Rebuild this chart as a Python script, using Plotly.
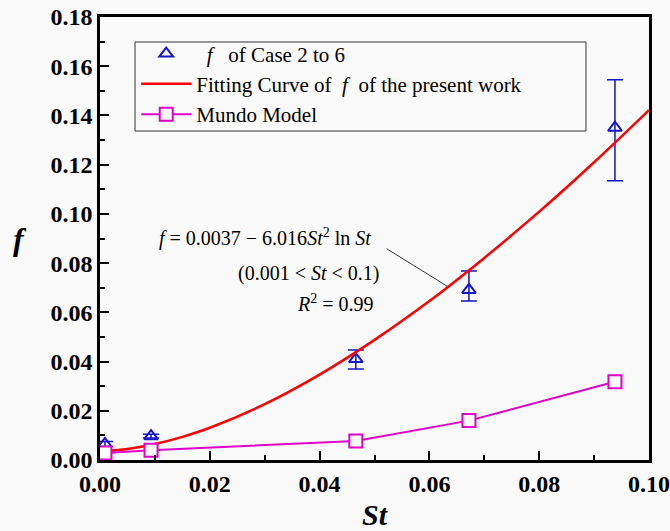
import plotly.graph_objects as go

# Measured f (Case 2 to 6)
st_case = [0.0009, 0.0093, 0.0466, 0.0672, 0.0938]
f_case = [0.0065, 0.0097, 0.0410, 0.0691, 0.1350]
err_plus = [0.0010, 0.0008, 0.0037, 0.0077, 0.0195]
err_minus = [0.0010, 0.0008, 0.0040, 0.0045, 0.0215]

# Fitting curve
st_fit = [0.001, 0.005, 0.01, 0.015, 0.02, 0.03, 0.04, 0.05, 0.06, 0.067, 0.07, 0.08, 0.09, 0.10]
f_fit = [0.0037, 0.0045, 0.0065, 0.0094, 0.0131, 0.0227, 0.0347, 0.0488, 0.0646, 0.0767, 0.0821, 0.1009, 0.1210, 0.1422]

# Mundo model
st_mundo = [0.0009, 0.0093, 0.0466, 0.0672, 0.0938]
f_mundo = [0.0028, 0.0040, 0.0077, 0.0160, 0.0318]

x_ticks = [0.00, 0.02, 0.04, 0.06, 0.08, 0.10]
y_ticks = [0.00, 0.02, 0.04, 0.06, 0.08, 0.10, 0.12, 0.14, 0.16, 0.18]

SERIF = "Liberation Serif"
BLUE = "#1414C8"
MAG = "#E000C8"
BG = "#FAFAFA"

fig = go.Figure()

fig.add_trace(go.Scatter(
    x=st_case, y=f_case, mode="markers",
    name="  <i>f</i>   of Case 2 to 6",
    marker=dict(symbol="triangle-up-open", size=12, color=BLUE, line=dict(width=2, color=BLUE)),
    error_y=dict(type="data", symmetric=False, array=err_plus, arrayminus=err_minus,
                 color=BLUE, thickness=1.5, width=8),
))

fig.add_trace(go.Scatter(
    x=st_fit, y=f_fit, mode="lines", line_shape="spline",
    name="Fitting Curve of  <i>f</i>  of the present work",
    line=dict(color="#FF0000", width=2.5),
))

fig.add_trace(go.Scatter(
    x=st_mundo, y=f_mundo, mode="lines+markers",
    name="Mundo Model",
    line=dict(color=MAG, width=2),
    marker=dict(symbol="square", size=13, color=BG, line=dict(width=2, color=MAG)),
))

axis_common = dict(
    ticks="inside", ticklen=9, tickwidth=2, tickcolor="black",
    minor=dict(ticks="inside", ticklen=5, tickwidth=2, dtick=0.01, tickcolor="black"),
    showline=True, linecolor="black", linewidth=2.5, mirror=True,
    showgrid=False, zeroline=False, automargin=False,
    tickfont=dict(family=SERIF, size=24, color="black"),
)
fig.update_xaxes(range=[0, 0.10], tickvals=x_ticks,
                 ticktext=[f"<b>{v:.2f}</b>" for v in x_ticks], **axis_common)
fig.update_yaxes(range=[0, 0.18], tickvals=y_ticks,
                 ticktext=[f"<b>{v:.2f}</b>" for v in y_ticks], **axis_common)

fig.add_annotation(xref="paper", yref="paper", x=0.502, y=-0.124, text="<b><i>St</i></b>",
                   showarrow=False, font=dict(family=SERIF, size=30, color="black"),
                   xanchor="center", yanchor="middle")
fig.add_annotation(xref="paper", yref="paper", x=-0.146, y=0.50, text="<b><i>f</i></b>",
                   showarrow=False, font=dict(family=SERIF, size=32, color="black"),
                   xanchor="center", yanchor="middle")

ann_font = dict(family=SERIF, size=20, color="black")
fig.add_annotation(xref="x", yref="y", x=0.0498, y=0.0903,
                   text="<i>f</i> = 0.0037 − 6.016<i>St</i><sup>2</sup> ln <i>St</i>",
                   showarrow=False, font=ann_font, xanchor="right", yanchor="middle")
fig.add_annotation(xref="x", yref="y", x=0.0511, y=0.0757,
                   text="(0.001 &lt; <i>St</i> &lt; 0.1)",
                   showarrow=False, font=ann_font, xanchor="right", yanchor="middle")
fig.add_annotation(xref="x", yref="y", x=0.0502, y=0.0638,
                   text="<i>R</i><sup>2</sup> = 0.99",
                   showarrow=False, font=ann_font, xanchor="right", yanchor="middle")
fig.add_annotation(xref="x", yref="y", x=0.0634, y=0.0704, text="",
                   showarrow=True, arrowhead=0, arrowwidth=1, arrowcolor="#333333",
                   ax=-63, ay=-39, axref="pixel", ayref="pixel")

# legend frame
fig.add_shape(type="rect", xref="paper", yref="paper",
              x0=0.0638, x1=0.8852, y0=0.7426, y1=0.9436,
              line=dict(color="#333333", width=1), fillcolor="rgba(0,0,0,0)")

fig.update_layout(
    width=670, height=531,
    margin=dict(l=100, r=21, t=17, b=71),
    paper_bgcolor=BG, plot_bgcolor=BG,
    showlegend=True,
    legend=dict(x=0.066, y=0.963, xanchor="left", yanchor="top",
                bgcolor="rgba(0,0,0,0)", borderwidth=0,
                font=dict(family=SERIF, size=21, color="black"),
                tracegroupgap=0, itemwidth=50),
)

fig.write_html("out.html")
